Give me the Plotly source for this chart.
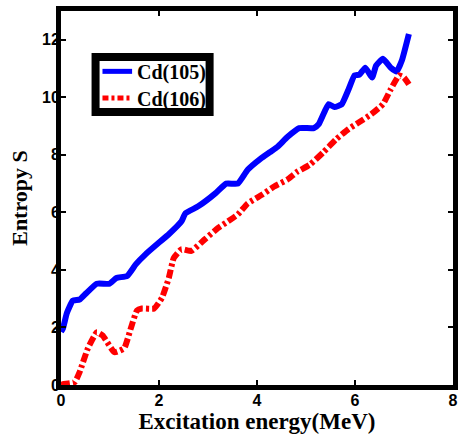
import plotly.graph_objects as go

cd105_e = [0.0, 0.04, 0.12, 0.24, 0.38, 0.52, 0.73, 0.99, 1.13, 1.35, 1.53, 1.73, 2.0, 2.2, 2.46, 2.54, 2.80, 3.15, 3.37, 3.61, 3.81, 4.07, 4.27, 4.42, 4.62, 4.86, 5.16, 5.26, 5.46, 5.58, 5.73, 5.87, 5.99, 6.09, 6.21, 6.35, 6.43, 6.57, 6.73, 6.85, 6.96, 7.1]
cd105_s = [1.85, 1.97, 2.5, 2.93, 2.97, 3.2, 3.52, 3.52, 3.72, 3.79, 4.2, 4.55, 4.95, 5.24, 5.69, 5.97, 6.21, 6.66, 7.0, 7.0, 7.48, 7.86, 8.1, 8.28, 8.62, 8.93, 8.93, 9.07, 9.76, 9.66, 9.76, 10.28, 10.76, 10.79, 11.03, 10.69, 11.1, 11.34, 11.03, 10.9, 11.3, 12.2]

cd106_e = [0.0, 0.04, 0.28, 0.38, 0.55, 0.73, 0.85, 1.09, 1.29, 1.43, 1.55, 1.65, 1.9, 2.06, 2.2, 2.3, 2.46, 2.66, 2.94, 3.2, 3.41, 3.61, 3.81, 4.11, 4.35, 4.62, 4.82, 5.08, 5.36, 5.62, 5.87, 6.09, 6.33, 6.57, 6.73, 6.9, 7.0, 7.1]
cd106_s = [0.0, 0.03, 0.1, 0.45, 1.28, 1.83, 1.72, 1.14, 1.28, 2.0, 2.59, 2.66, 2.66, 3.03, 3.72, 4.41, 4.72, 4.66, 5.07, 5.45, 5.69, 5.93, 6.31, 6.62, 6.9, 7.14, 7.41, 7.66, 8.1, 8.55, 8.9, 9.14, 9.41, 9.76, 10.28, 10.76, 10.69, 10.45]

series_names = ["Cd(105)", "Cd(106)"]
x_ticks = [0, 2, 4, 6, 8]
y_ticks = [0, 2, 4, 6, 8, 10, 12]

BLUE = "#0000ff"
RED = "#ff0000"
RED_DASH = "9px,3px,3px,3px"

fig = go.Figure()
fig.add_trace(go.Scatter(x=cd105_e, y=cd105_s, mode="lines", name=series_names[0],
                         line=dict(color=BLUE, width=6, shape="spline", smoothing=0.4)))
fig.add_trace(go.Scatter(x=cd106_e, y=cd106_s, mode="lines", name=series_names[1],
                         line=dict(color=RED, width=6, dash=RED_DASH, shape="spline", smoothing=0.4)))

axis_common = dict(showline=True, linewidth=5, linecolor="black", mirror="allticks",
                   ticks="inside", ticklen=5, tickwidth=2, tickcolor="black",
                   showgrid=False, zeroline=False,
                   tickfont=dict(family="Liberation Sans", size=16, color="black", weight="bold"))

fig.update_xaxes(range=[0, 8], tickvals=x_ticks, ticklabelstandoff=-3, **axis_common,
                 title=dict(text="Excitation energy(MeV)", standoff=2,
                            font=dict(family="Liberation Serif", size=23, color="black", weight="bold")))
fig.update_yaxes(range=[0, 13], tickvals=y_ticks, ticklabelstandoff=-7, **axis_common,
                 title=dict(text="Entropy S", standoff=10,
                            font=dict(family="Liberation Serif", size=22, color="black", weight="bold")))

# manual legend box (pixel layout converted to paper coordinates)
L, B, W, H = 61, 385, 397, 378
def px(xp):
    return (xp - L) / W
def py(yp):
    return (B - yp) / H

fig.add_shape(type="rect", xref="paper", yref="paper",
              x0=px(96), x1=px(211.5), y0=py(109), y1=py(53.5),
              line=dict(color="black", width=8), fillcolor="white", layer="above")
legend_rows = [(68, BLUE, "solid"), (95, RED, "6px,3px,3px,3px")]
for (yy, col, dash), name in zip(legend_rows, series_names):
    fig.add_shape(type="line", xref="paper", yref="paper",
                  x0=px(103), x1=px(133), y0=py(yy), y1=py(yy),
                  line=dict(color=col, width=5, dash=dash), layer="above")
    fig.add_annotation(xref="paper", yref="paper", x=px(136), y=py(yy + 1),
                       text=name, showarrow=False, xanchor="left", yanchor="middle",
                       font=dict(family="Liberation Serif", size=20, color="black", weight="bold"))

fig.update_layout(
    width=464, height=437,
    margin=dict(l=61, r=6, t=7, b=52),
    paper_bgcolor="white", plot_bgcolor="white",
    showlegend=False,
)

fig.write_html("out.html")
